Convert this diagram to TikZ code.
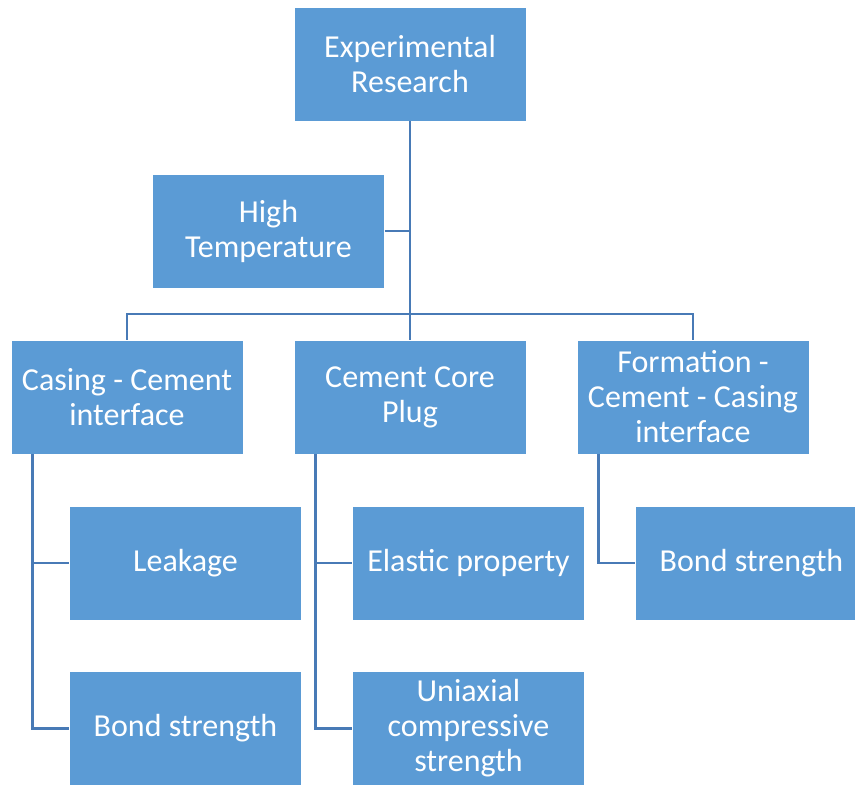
\documentclass[tikz,border=0pt]{standalone}
\usepackage{fontspec}
\setmainfont{Carlito}
\usepackage{tikz}

\definecolor{boxblue}{RGB}{91,155,213}
\definecolor{lineblue}{RGB}{72,122,182}

\tikzset{
	box/.style={rectangle, fill=boxblue, draw=white, line width=0.8pt, text=white,
		minimum width=232pt, minimum height=114pt, align=center,
		font=\fontsize{32}{35}\selectfont},
	link/.style={draw=lineblue, line width=2.6pt}
}

\begin{document}
\begin{tikzpicture}[x=1pt,y=-1pt]

		\useasboundingbox (0,0) rectangle (855,785);

		\node[box] (exp) at (410,64) {Experimental\\Research};
		\node[box] (high) at (268.5,231) {High\\Temperature};

		\node[box] (casing) at (127,397) {Casing - Cement\\interface};
		\node[box] (core) at (410,397) {Cement Core\\Plug};
		\node[box] (formation) at (693,397) {Formation -\\Cement - Casing\\interface};

		\node[box] (leak) at (185.5,563) {Leakage};
		\node[box] (bondL) at (185.5,728.5) {Bond strength};
		\node[box] (elastic) at (468.5,563) {Elastic property};
		\node[box] (ucs) at (468.5,728.5) {Uniaxial\\compressive\\strength};
		\node[box] (bondR) at (751.5,563) {Bond strength};

		\coordinate (bar) at (410,314);
		\coordinate (casingtrunk) at ([xshift=22pt]casing.south west);
		\coordinate (coretrunk) at ([xshift=22pt]core.south west);
		\coordinate (formationtrunk) at ([xshift=22pt]formation.south west);

		\draw[link] (exp.south) -- (core.north);
		\draw[link] (high.east) -- (high.east -| exp.south);
		\draw[link] (casing.north) |- (bar) -| (formation.north);

		\foreach \child in {leak,bondL}{
				\draw[link] (casingtrunk) |- (\child.west);
			}
		\foreach \child in {elastic,ucs}{
				\draw[link] (coretrunk) |- (\child.west);
			}
		\draw[link] (formationtrunk) |- (bondR.west);

\end{tikzpicture}
\end{document}
